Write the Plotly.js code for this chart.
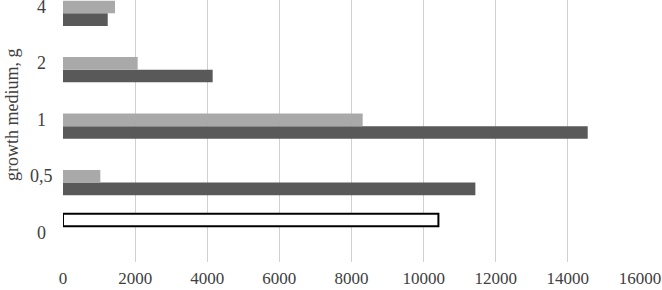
<!DOCTYPE html>
<html>
<head>
<meta charset="utf-8">
<script src="https://cdn.plot.ly/plotly-3.0.1.min.js"></script>
<style>html,body{margin:0;padding:0;background:#fff;}#chart{width:662px;height:290px;}</style>
</head>
<body>
<div id="chart"></div>
<script>
const categories = ["0", "0,5", "1", "2", "4"];
const darkSeries = [null, 11435, 14550, 4150, 1240];
const lightSeries = [null, 1035, 8310, 2070, 1442];
const controlSeries = [10410, null, null, null, null];
const xTicks = [0, 2000, 4000, 6000, 8000, 10000, 12000, 14000, 16000];
const yTitle = "growth medium, g";

const font = {family: "Liberation Serif, Times New Roman, serif", size: 18, color: "#404040"};
const tickFont = {family: "Liberation Serif, Times New Roman, serif", size: 17, color: "#404040"};

const traces = [
  {type: "bar", orientation: "h", y: categories, x: darkSeries, marker: {color: "#595959"}, hoverinfo: "x"},
  {type: "bar", orientation: "h", y: categories, x: lightSeries, marker: {color: "#a9a9a9"}, hoverinfo: "x"},
  {type: "bar", orientation: "h", y: categories, x: controlSeries, marker: {color: "#ffffff", line: {color: "#000000", width: 2}}, hoverinfo: "x"}
];

const annotations = categories.map((c, i) => ({
  xref: "paper", yref: "y", x: -0.038, y: i, text: c, showarrow: false,
  xanchor: "center", yanchor: "middle", font: font
}));
annotations.push({
  xref: "paper", yref: "paper", x: -0.0884, y: 0.565, text: yTitle, showarrow: false,
  textangle: -90, xanchor: "center", yanchor: "middle", font: font
});

const layout = {
  width: 662, height: 290,
  margin: {l: 63, r: 22, t: 0, b: 28},
  paper_bgcolor: "#ffffff", plot_bgcolor: "#ffffff",
  barmode: "group", bargap: 0.33, bargroupgap: 0,
  showlegend: false,
  font: font,
  xaxis: {
    range: [0, 16000], tickvals: xTicks, ticktext: xTicks.map(String),
    showgrid: true, gridcolor: "#d0d0d0", gridwidth: 1, zeroline: false,
    showline: false, ticks: "", tickfont: tickFont, ticklabelstandoff: 4
  },
  yaxis: {
    type: "category", categoryorder: "array", categoryarray: categories,
    range: [-0.52, 4.124], showgrid: false, zeroline: false, showline: false,
    ticks: "", showticklabels: false
  },
  annotations: annotations
};

Plotly.newPlot("chart", traces, layout, {displayModeBar: false, staticPlot: true});
</script>
</body>
</html>
